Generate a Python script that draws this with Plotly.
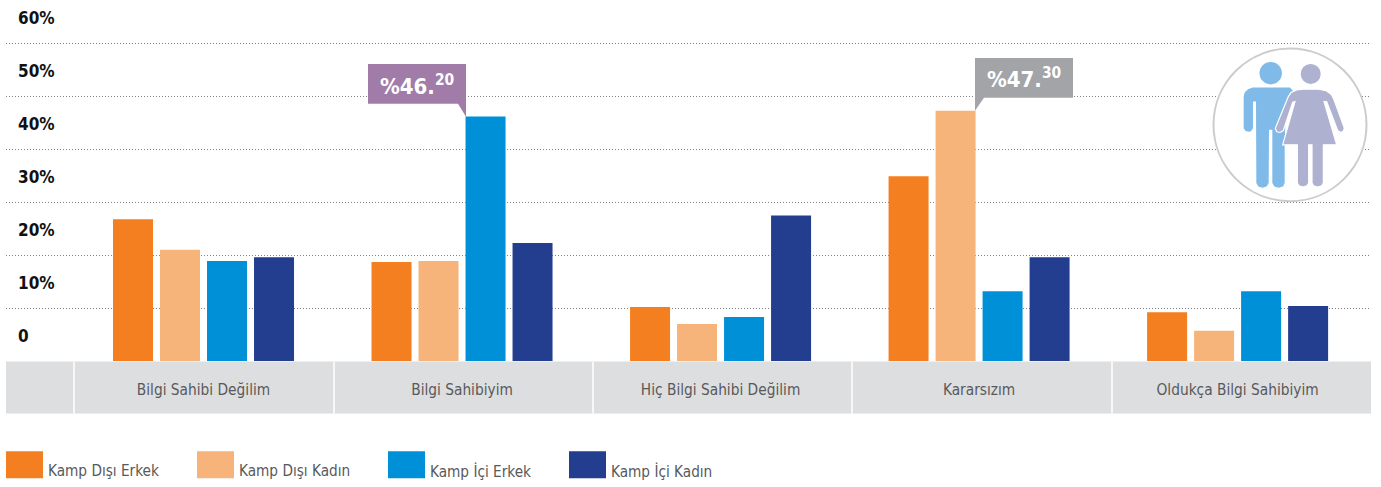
import plotly.graph_objects as go

categories = ["Bilgi Sahibi Değilim", "Bilgi Sahibiyim", "Hiç Bilgi Sahibi Değilim", "Kararsızım", "Oldukça Bilgi Sahibiyim"]
kamp_disi_erkek = [26.8, 18.7, 10.2, 34.9, 9.2]
kamp_disi_kadin = [21.0, 18.9, 7.0, 47.3, 5.7]
kamp_ici_erkek = [18.9, 46.2, 8.3, 13.2, 13.2]
kamp_ici_kadin = [19.6, 22.3, 27.5, 19.6, 10.4]
series_names = ["Kamp Dışı Erkek", "Kamp Dışı Kadın", "Kamp İçi Erkek", "Kamp İçi Kadın"]
colors = ["#f37f21", "#f6b47b", "#0090d7", "#233e8f"]
y_ticks = [0, 10, 20, 30, 40, 50, 60]
y_labels = ["0", "10%", "20%", "30%", "40%", "50%", "60%"]

W, H = 1381, 487
L, R, T, B = 6, 1371, 8, 361.5
FONT = "DejaVu Sans Condensed, Roboto, sans-serif"
GREY_TXT = "#58595b"

def px(x):
    return (x - L) / (R - L)

def py(y):
    return (B - y) / (B - T)

def path(points, close=True):
    s = "M " + " L ".join(f"{px(x):.5f},{py(y):.5f}" for x, y in points)
    return s + (" Z" if close else "")

def rect(x0, y0, x1, y1, color, line=None, lw=0, layer="above"):
    return dict(type="rect", xref="paper", yref="paper", x0=px(x0), x1=px(x1), y0=py(y0), y1=py(y1),
                fillcolor=color, line=dict(color=line or color, width=lw), layer=layer)

def circle(cx, cy, r, color, line=None, lw=0):
    return dict(type="circle", xref="paper", yref="paper", x0=px(cx - r), x1=px(cx + r), y0=py(cy - r), y1=py(cy + r),
                fillcolor=color, line=dict(color=line or color, width=lw), layer="above")

def poly(points, color, line=None, lw=0):
    return dict(type="path", xref="paper", yref="paper", path=path(points), fillcolor=color,
                line=dict(color=line or color, width=lw), layer="above")

fig = go.Figure()
for name, vals, col in zip(series_names, [kamp_disi_erkek, kamp_disi_kadin, kamp_ici_erkek, kamp_ici_kadin], colors):
    fig.add_bar(name=name, x=categories, y=vals, marker=dict(color=col, line=dict(width=0)))

shapes = []
# category strip
shapes.append(rect(6, 362, 1371, 414, "#dddee0", layer="below"))
for sx in [74, 334, 593, 852, 1112]:
    shapes.append(dict(type="line", xref="paper", yref="paper", x0=px(sx), x1=px(sx), y0=py(362), y1=py(414),
                       line=dict(color="#ffffff", width=1.5), layer="below"))
# callouts
shapes.append(poly([(368, 64), (466, 64), (466, 117), (458, 104), (368, 104)], "#a27ca9"))
shapes.append(poly([(975, 58), (1073, 58), (1073, 98), (984, 98), (975, 111)], "#a3a4a7"))
# icon
MAN, WOMAN = "#7fbae8", "#aeb1d0"
shapes.append(circle(1290, 125, 76.5, "#ffffff", "#cccccc", 2))
shapes.append(circle(1270.7, 73.3, 11.2, MAN))
zx = lambda v: 1180 + v / 3
zy = lambda v: 40 + v / 3
man = [(191, 170), (194, 158), (204, 148), (218, 143), (330, 143), (345, 160), (316, 250), (314, 315), (314, 430),
       (309, 440), (296, 444), (283, 440), (277, 430), (277, 270), (267, 270), (266, 430), (260, 440), (247, 444),
       (235, 440), (229, 430), (228, 185), (219, 185), (219, 265), (213, 274), (205, 276), (196, 273), (191, 265)]
shapes.append(poly([(zx(a), zy(b)) for a, b in man], MAN))
shapes.append(circle(1310.7, 74, 10, WOMAN))
woman = [(325, 170), (333, 158), (350, 150), (370, 148), (415, 148), (438, 152), (455, 165), (462, 180), (493, 265),
         (490, 274), (482, 278), (473, 272), (440, 185), (432, 185), (470, 315), (430, 315), (430, 430), (425, 438),
         (413, 442), (401, 438), (396, 430), (396, 315), (386, 315), (386, 430), (381, 438), (369, 442), (357, 438),
         (352, 430), (352, 315), (308, 315), (345, 185), (338, 187), (310, 272), (300, 278), (290, 276), (286, 265)]
shapes.append(poly([(zx(a), zy(b)) for a, b in woman], WOMAN, "#ffffff", 1.2))
# legend swatches and labels
annotations = []
for name, col, sx, tx in zip(series_names, colors, [6, 197, 388, 569], [46, 237, 428, 609]):
    shapes.append(rect(sx, 452, sx + 37, 479, col))
    annotations.append(dict(xref="paper", yref="paper", x=px(tx), y=py(472), text=name, showarrow=False,
                            xanchor="left", yanchor="middle", font=dict(family=FONT, size=15.2, color=GREY_TXT)))
annotations.append(dict(xref="paper", yref="paper", x=px(417), y=py(85), text="<b>%46.<sup>20</sup></b>", showarrow=False,
                        xanchor="center", yanchor="middle", font=dict(family=FONT, size=22, color="#ffffff")))
annotations.append(dict(xref="paper", yref="paper", x=px(1024), y=py(78), text="<b>%47.<sup>30</sup></b>", showarrow=False,
                        xanchor="center", yanchor="middle", font=dict(family=FONT, size=22, color="#ffffff")))

fig.update_layout(
    width=W, height=H, margin=dict(l=L, r=W - R, t=T, b=H - B, pad=0), autosize=False,
    paper_bgcolor="#ffffff", plot_bgcolor="#ffffff", showlegend=False,
    barmode="group", bargap=0.2727, bargroupgap=0.149,
    shapes=shapes, annotations=annotations,
    xaxis=dict(type="category", categoryorder="array", categoryarray=categories, range=[-0.764, 4.516],
               showgrid=False, zeroline=False, showline=False, ticks="outside", ticklen=15, tickcolor="rgba(0,0,0,0)",
               tickfont=dict(family=FONT, size=15.3, color=GREY_TXT)),
    yaxis=dict(range=[0, (B - T) / 5.3], tickvals=y_ticks, ticktext=y_labels, showgrid=True, griddash="1px,2px",
               gridcolor="#808080", gridwidth=1, zeroline=False, showline=False,
               side="right", anchor="free", position=0, ticklabelposition="outside", ticklabelshift=-25, ticklabelstandoff=11,
               tickfont=dict(family=FONT, size=17, color="#111111", weight="bold")),
)
fig.write_html("out.html", post_script="document.body.style.margin='0';", config=dict(displayModeBar=False))
